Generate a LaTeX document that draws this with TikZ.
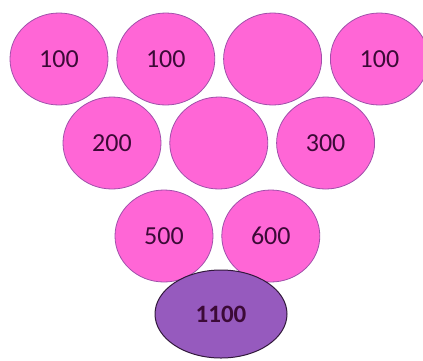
\documentclass[tikz,border=0pt]{standalone}
\usepackage{fontspec}
\newfontfamily\ballfont{Carlito}
\usepackage{tikz}
\usetikzlibrary{positioning,shapes.geometric}

\definecolor{ballpink}{RGB}{255,102,214}
\definecolor{balledge}{RGB}{160,80,170}
\definecolor{sumfill}{RGB}{150,90,190}
\definecolor{sumedge}{RGB}{50,25,60}
\definecolor{numtext}{RGB}{60,10,55}

\begin{document}
\begin{tikzpicture}[x=1pt,y=-1pt, node distance=8pt,
    every node/.style={font=\ballfont\fontsize{26}{27}\selectfont, text=numtext},
    ball/.style={ellipse,draw=balledge,fill=ballpink,line width=0.8pt,
      minimum width=98pt,minimum height=92pt,inner sep=0pt},
    total/.style={ellipse,draw=sumedge,fill=sumfill,line width=1pt,
      minimum width=132pt,minimum height=88pt,inner sep=0pt,font=\ballfont\bfseries\fontsize{25}{26}\selectfont}]
  \useasboundingbox (0,0) rectangle (423,360);
  % top row
  \node[ball] (r1a) at (59,59) {100};
  \node[ball,right=of r1a] (r1b) {100};
  \node[ball,right=of r1b] (r1c) {};
  \node[ball,right=of r1c] (r1d) {100};
  % second row
  \node[ball] (r2a) at (112,143) {200};
  \node[ball,right=of r2a] (r2b) {};
  \node[ball,right=of r2b] (r2c) {300};
  % third row
  \node[ball] (r3a) at (164,236) {500};
  \node[ball,right=of r3a] (r3b) {600};
  % sum
  \node[total] (sum) at (221,314) {1100};
\end{tikzpicture}
\end{document}
